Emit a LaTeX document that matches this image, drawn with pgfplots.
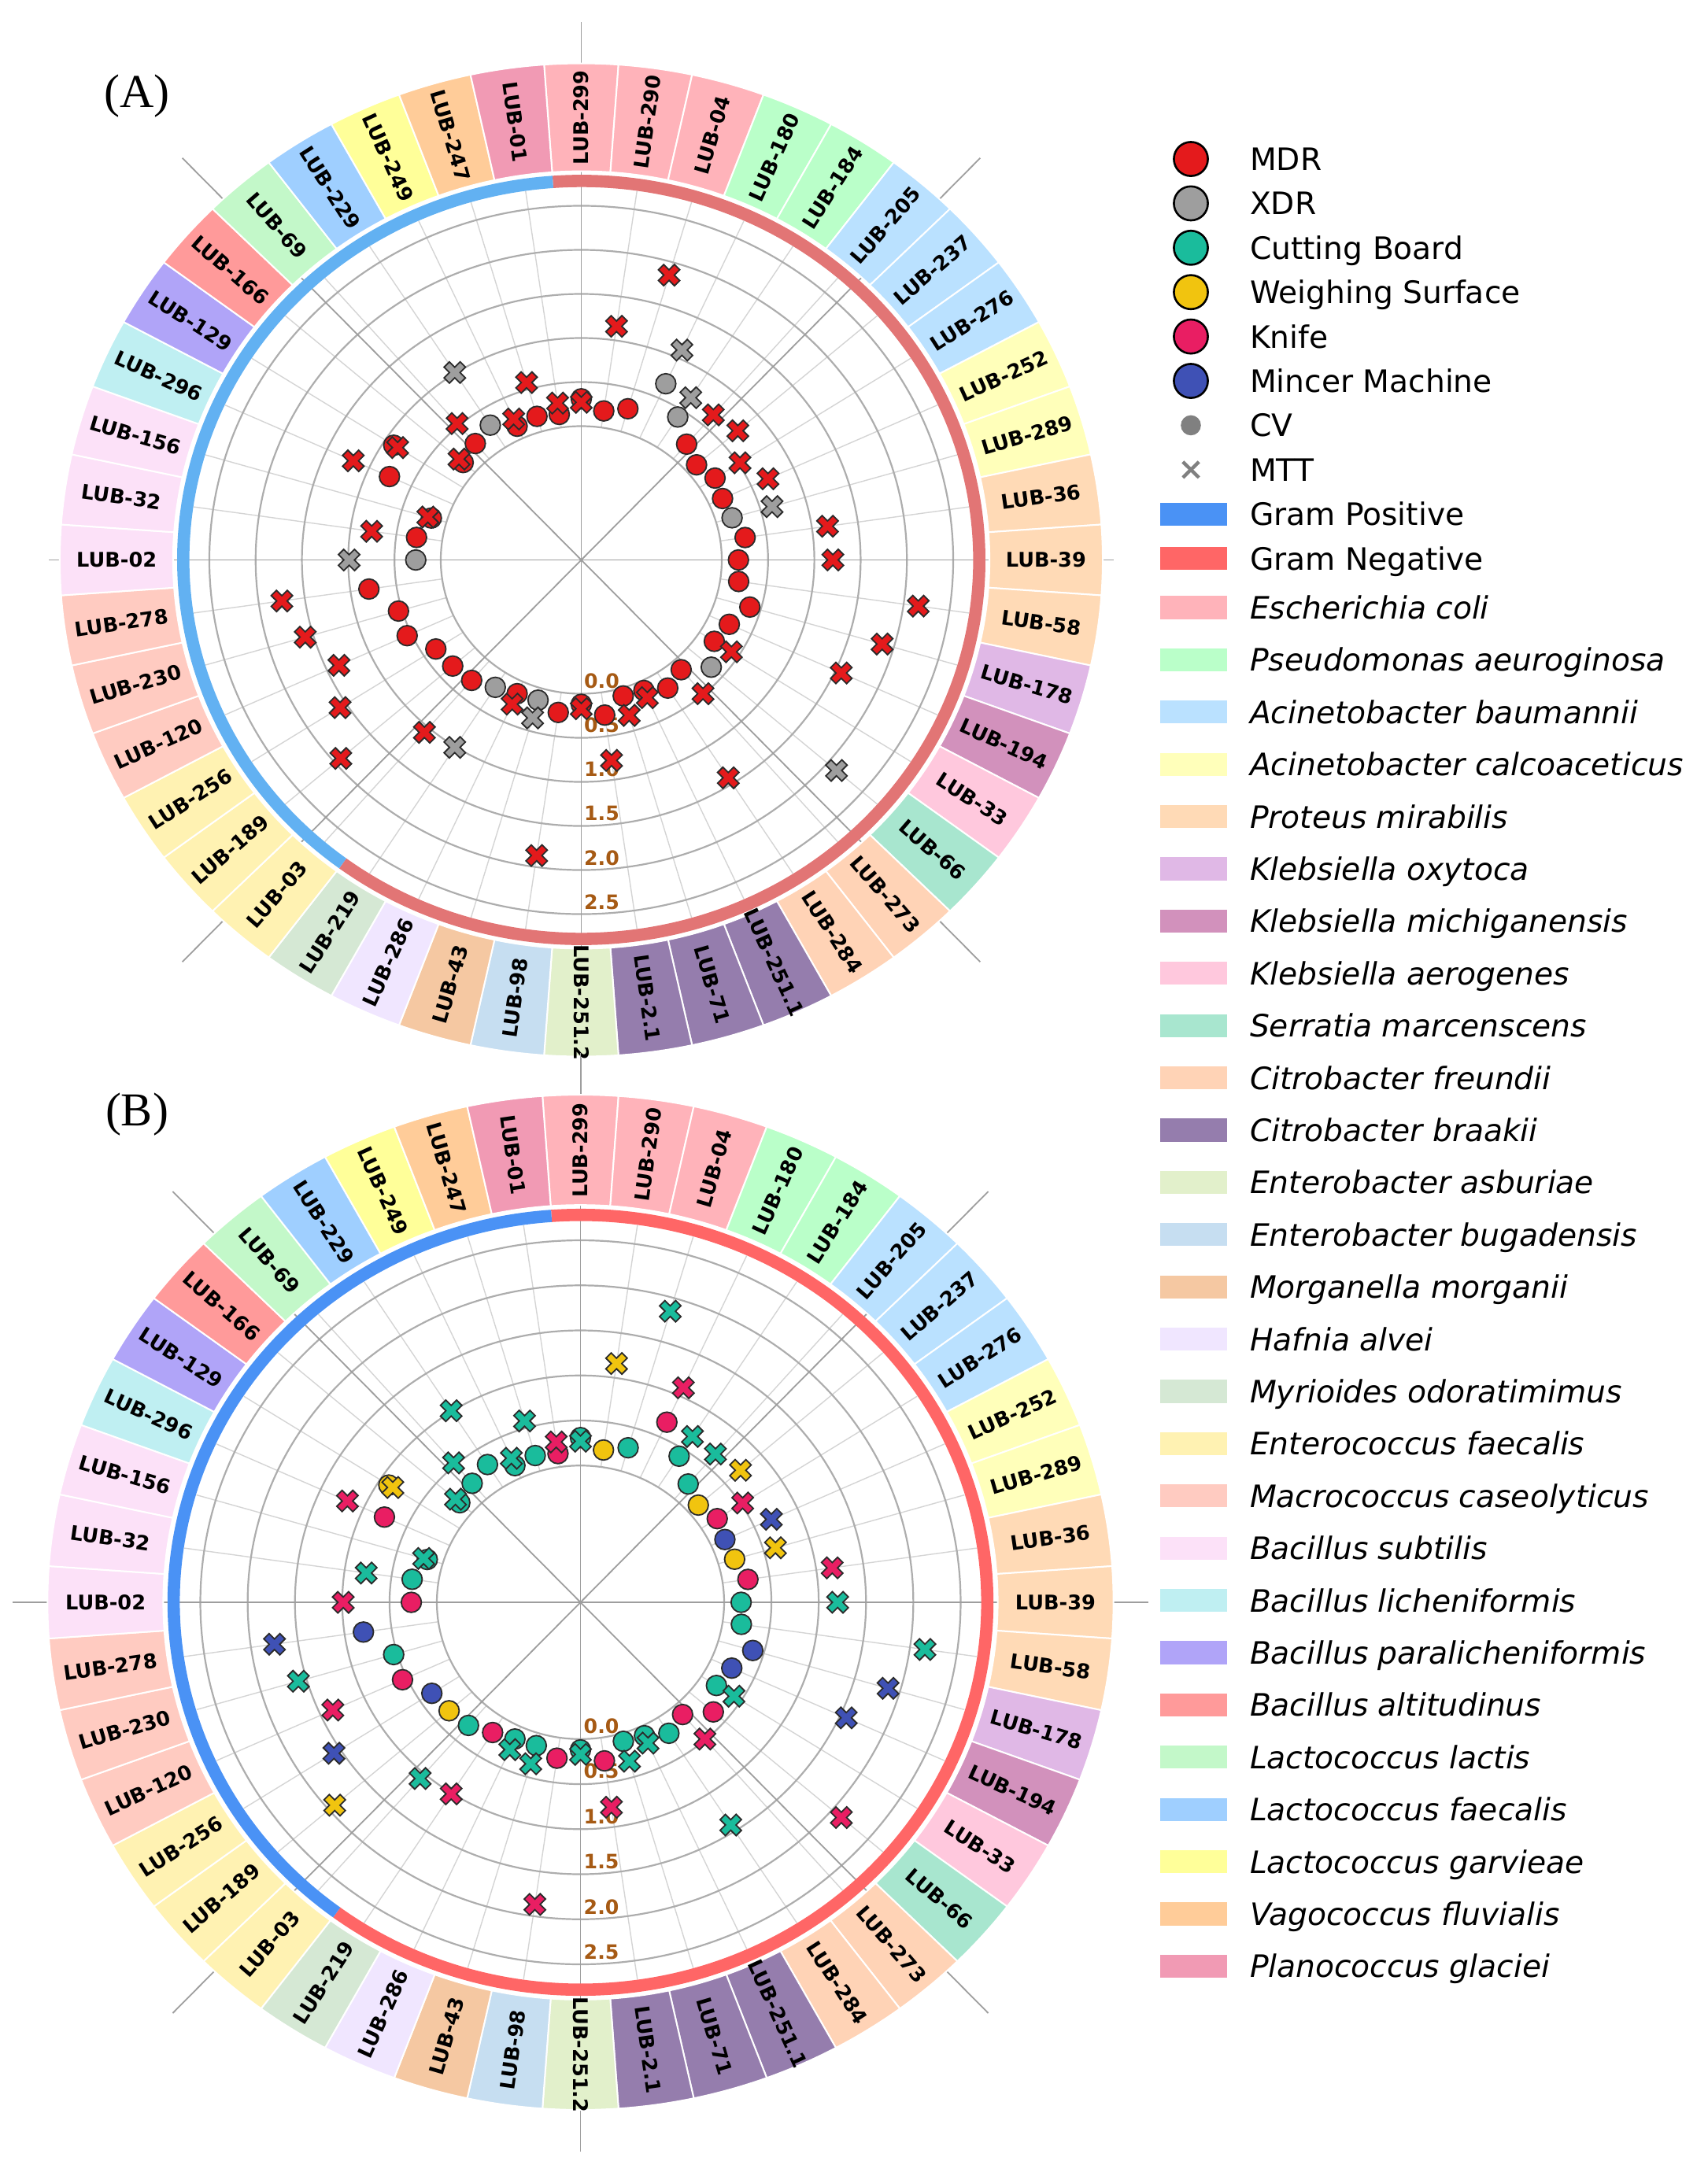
\documentclass[border=0pt]{standalone}
\usepackage{pgfplots}
\pgfplotsset{compat=1.18}
\usepackage{pgfplotstable}
\usepackage{fontspec}
\setmainfont{DejaVu Sans}
\newfontfamily\dvs{DejaVu Sans}
\newfontfamily\tnr{Liberation Serif}

% marker colours
\definecolor{mdr}{HTML}{E41A1C}
\definecolor{xdr}{HTML}{9E9E9E}
\definecolor{cb}{HTML}{1ABC9C}
\definecolor{ws}{HTML}{F1C40F}
\definecolor{kn}{HTML}{E91E63}
\definecolor{mm}{HTML}{3F51B5}
\definecolor{edgec}{HTML}{2B2B2B}
\definecolor{ticklab}{HTML}{A65A14}
% gram ring
\definecolor{gposA}{HTML}{62B1F2}
\definecolor{gnegA}{HTML}{E27575}
\definecolor{gposB}{HTML}{4A92F5}
\definecolor{gnegB}{HTML}{FF6666}
% species
\definecolor{ecoli}{HTML}{FFB3BA}
\definecolor{pseud}{HTML}{BAFFC9}
\definecolor{abaum}{HTML}{BAE1FF}
\definecolor{acalc}{HTML}{FFFFBA}
\definecolor{prot}{HTML}{FFDAB6}
\definecolor{koxy}{HTML}{E0B8E6}
\definecolor{kmich}{HTML}{D291BC}
\definecolor{kaer}{HTML}{FFC8DD}
\definecolor{serr}{HTML}{A8E6CF}
\definecolor{cfre}{HTML}{FFD3B6}
\definecolor{cbra}{HTML}{957DAD}
\definecolor{easb}{HTML}{E2F0CB}
\definecolor{ebug}{HTML}{C6DEF1}
\definecolor{morg}{HTML}{F5C8A2}
\definecolor{hafn}{HTML}{F0E6FF}
\definecolor{myro}{HTML}{D5E8D4}
\definecolor{entc}{HTML}{FFF2B2}
\definecolor{macr}{HTML}{FFCBC1}
\definecolor{bsub}{HTML}{FCE1F8}
\definecolor{blic}{HTML}{BFEFF2}
\definecolor{bpar}{HTML}{B0A4F8}
\definecolor{balt}{HTML}{FF9A9A}
\definecolor{llac}{HTML}{C3F8C9}
\definecolor{lfae}{HTML}{9FCFFF}
\definecolor{lgar}{HTML}{FFFF99}
\definecolor{vago}{HTML}{FFCC99}
\definecolor{plan}{HTML}{F19AB4}

% filled "X" marker
\pgfdeclareplotmark{Xf}{%
  \pgftransformrotate{45}%
  \pgfpathmoveto{\pgfqpoint{0.33\pgfplotmarksize}{\pgfplotmarksize}}%
  \pgfpathlineto{\pgfqpoint{0.33\pgfplotmarksize}{0.33\pgfplotmarksize}}%
  \pgfpathlineto{\pgfqpoint{\pgfplotmarksize}{0.33\pgfplotmarksize}}%
  \pgfpathlineto{\pgfqpoint{\pgfplotmarksize}{-0.33\pgfplotmarksize}}%
  \pgfpathlineto{\pgfqpoint{0.33\pgfplotmarksize}{-0.33\pgfplotmarksize}}%
  \pgfpathlineto{\pgfqpoint{0.33\pgfplotmarksize}{-\pgfplotmarksize}}%
  \pgfpathlineto{\pgfqpoint{-0.33\pgfplotmarksize}{-\pgfplotmarksize}}%
  \pgfpathlineto{\pgfqpoint{-0.33\pgfplotmarksize}{-0.33\pgfplotmarksize}}%
  \pgfpathlineto{\pgfqpoint{-\pgfplotmarksize}{-0.33\pgfplotmarksize}}%
  \pgfpathlineto{\pgfqpoint{-\pgfplotmarksize}{0.33\pgfplotmarksize}}%
  \pgfpathlineto{\pgfqpoint{-0.33\pgfplotmarksize}{0.33\pgfplotmarksize}}%
  \pgfpathlineto{\pgfqpoint{-0.33\pgfplotmarksize}{\pgfplotmarksize}}%
  \pgfpathclose
  \pgfusepathqfillstroke
}

% isolate index (clockwise from top), CV, MTT, resistance, source
\pgfplotstableread{
idx cv   mtt  res src
0   0.31 0.27 M CB
1   0.19 1.16 M WS
2   0.27 1.85 M CB
3   0.68 1.10 X K
4   0.41 0.67 X CB
5   0.22 0.66 M CB
6   0.13 0.72 M WS
7   0.20 0.52 M K
8   0.16 0.70 M MM
9   0.18 0.63 X WS
10  0.27 1.17 M K
11  0.18 1.20 M CB
12  0.20 2.16 M CB
13  0.38 1.87 M MM
14  0.24 1.57 M MM
15  0.19 0.41 M CB
16  0.34 2.13 X K
17  0.13 0.49 M K
18  0.21 1.42 M CB
19  0.11 0.20 M CB
20  0.09 0.32 M CB
21  0.26 0.78 M K
22  0.12 0.17 M CB
23  0.23 1.87 M K
24  0.14 0.35 X CB
25  0.15 0.28 M CB
26  0.20 1.01 X K
27  0.29 1.07 M CB
28  0.32 1.92 M WS
29  0.35 1.58 M MM
30  0.55 1.36 M K
31  0.54 1.59 M CB
32  0.80 1.75 M MM
33  0.27 0.99 X K
34  0.28 0.77 M CB
35  0.17 0.21 M CB
36  0.76 1.19 M K
37  0.89 0.84 M WS
38  0.17 0.23 M CB
39  0.23 0.53 M CB
40  0.30 1.01 X CB
41  0.15 0.24 M CB
42  0.18 0.58 M CB
43  0.15 0.28 M K
}\iso

\def\roff{1.518}
\def\ringlist{0/LUB-299/ecoli,1/LUB-290/ecoli,2/LUB-04/ecoli,3/LUB-180/pseud,4/LUB-184/pseud,5/LUB-205/abaum,6/LUB-237/abaum,7/LUB-276/abaum,8/LUB-252/acalc,9/LUB-289/acalc,10/LUB-36/prot,11/LUB-39/prot,12/LUB-58/prot,13/LUB-178/koxy,14/LUB-194/kmich,15/LUB-33/kaer,16/LUB-66/serr,17/LUB-273/cfre,18/LUB-284/cfre,19/LUB-251.1/cbra,20/LUB-71/cbra,21/LUB-2.1/cbra,22/LUB-251.2/easb,23/LUB-98/ebug,24/LUB-43/morg,25/LUB-286/hafn,26/LUB-219/myro,27/LUB-03/entc,28/LUB-189/entc,29/LUB-256/entc,30/LUB-120/macr,31/LUB-230/macr,32/LUB-278/macr,33/LUB-02/bsub,34/LUB-32/bsub,35/LUB-156/bsub,36/LUB-296/blic,37/LUB-129/bpar,38/LUB-166/balt,39/LUB-69/llac,40/LUB-229/lfae,41/LUB-249/lgar,42/LUB-247/vago,43/LUB-01/plan}

\tikzset{
  mingrid/.style={draw=black!17, line width=0.35pt},
  circgrid/.style={draw=black!32, line width=0.55pt},
  majgrid/.style={draw=black!38, line width=0.45pt},
}

% grid, gram ring, isolate ring and radial labels of one panel
\newcommand{\polardeco}[6]{%
\begin{scope}[shift={(#1)}, x=#2, y=#3]
  \foreach \i in {0,...,43}{
    \pgfmathsetmacro\tA{\i*360/44}
    \draw[mingrid] ({\roff*sin(\tA)},{\roff*cos(\tA)}) -- ({4.23*sin(\tA)},{4.23*cos(\tA)});
  }
  \foreach \v in {0,0.5,1,1.5,2,2.5}{
    \draw[circgrid] (0,0) circle[radius={\roff+\v}];
  }
  \draw[majgrid] (-#6,0) -- (#6,0);
  \draw[majgrid] (0,-6.1) -- (0,6.1);
  \draw[majgrid] (-4.31,-4.56) -- (4.31,4.56);
  \draw[majgrid] (-4.31,4.56) -- (4.31,-4.56);
  \draw[line width=3.9pt, #5] (94.09:4.3) arc[start angle=94.09, end angle=-126.82, radius=4.3];
  \draw[line width=3.9pt, #4] (-126.82:4.3) arc[start angle=-126.82, end angle=-265.91, radius=4.3];
  \foreach \i/\lab/\c in \ringlist{
    \pgfmathsetmacro\ta{90-\i*360/44+180/44}
    \pgfmathsetmacro\tb{90-\i*360/44-180/44}
    \pgfmathsetmacro\ph{90-\i*360/44}
    \pgfmathsetmacro\rot{\i<23 ? \ph : \ph+180}
    \fill[\c, draw=white, line width=0.5pt] (\ta:4.41) arc[start angle=\ta, end angle=\tb, radius=4.41]
      -- (\tb:5.634) arc[start angle=\tb, end angle=\ta, radius=5.634] -- cycle;
    \node[font=\dvs\bfseries\fontsize{6.4}{7}\selectfont, rotate=\rot, inner sep=0pt] at (\ph:5.02) {\lab};
  }
  \foreach \v/\l in {0/0.0,0.5/0.5,1/1.0,1.5/1.5,2/2.0,2.5/2.5}{
    \node[font=\dvs\bfseries\fontsize{6.3}{7}\selectfont, text=ticklab, inner sep=0pt] at (0.221,{-(1.371+1.005*\v)}) {\l};
  }
\end{scope}}

\pgfplotsset{
  polarbase/.style={hide axis, clip=false, anchor=origin,
    xmin=-6, xmax=6, ymin=-6, ymax=6},
  cvplot/.style={scatter, only marks, mark=*, mark size=3.2pt,
    scatter src=explicit symbolic},
  mttplot/.style={scatter, only marks, mark=Xf, mark size=3.6pt,
    scatter src=explicit symbolic},
  mk/.style={legend image code/.code={\draw[fill=#1, draw=black, line width=0.65pt] (9.75pt,0pt) circle[radius=5.4pt]; \path[draw=none, fill=none] (0pt,0pt) -- (21.25pt,0pt);}},
  patch/.style={legend image code/.code={\fill[#1, draw=none] (0pt,-3.65pt) rectangle (21.25pt,3.65pt);}},
}

\begin{document}
\begin{tikzpicture}
\useasboundingbox (0,0) rectangle (542.5pt,-691.25pt);

% ---------------- panel A ----------------
\polardeco{184.625pt,-177.875pt}{29.4pt}{28pt}{gposA}{gnegA}{5.75}
\begin{axis}[polarbase, at={(184.625pt,-177.875pt)}, x=29.4pt, y=28pt]
\addplot[cvplot, scatter/classes={
    M={draw=edgec, fill=mdr, line width=0.45pt},
    X={draw=edgec, fill=xdr, line width=0.45pt}}]
  table[x expr={(\thisrow{cv}+\roff)*sin(\thisrow{idx}*360/44)},
        y expr={(\thisrow{cv}+\roff)*cos(\thisrow{idx}*360/44)}, meta=res] {\iso};
\addplot[mttplot, scatter/classes={
    M={draw=edgec, fill=mdr, line width=0.45pt},
    X={draw=edgec, fill=xdr, line width=0.45pt}}]
  table[x expr={(\thisrow{mtt}+\roff)*sin(\thisrow{idx}*360/44)},
        y expr={(\thisrow{mtt}+\roff)*cos(\thisrow{idx}*360/44)}, meta=res] {\iso};
\end{axis}

% ---------------- panel B ----------------
\polardeco{184.375pt,-509pt}{30.05pt}{28.62pt}{gposB}{gnegB}{6.0}
\begin{axis}[polarbase, at={(184.375pt,-509pt)}, x=30.05pt, y=28.62pt]
\addplot[cvplot, scatter/classes={
    CB={draw=edgec, fill=cb, line width=0.45pt},
    WS={draw=edgec, fill=ws, line width=0.45pt},
    K={draw=edgec, fill=kn, line width=0.45pt},
    MM={draw=edgec, fill=mm, line width=0.45pt}}]
  table[x expr={(\thisrow{cv}+\roff)*sin(\thisrow{idx}*360/44)},
        y expr={(\thisrow{cv}+\roff)*cos(\thisrow{idx}*360/44)}, meta=src] {\iso};
\addplot[mttplot, scatter/classes={
    CB={draw=edgec, fill=cb, line width=0.45pt},
    WS={draw=edgec, fill=ws, line width=0.45pt},
    K={draw=edgec, fill=kn, line width=0.45pt},
    MM={draw=edgec, fill=mm, line width=0.45pt}}]
  table[x expr={(\thisrow{mtt}+\roff)*sin(\thisrow{idx}*360/44)},
        y expr={(\thisrow{mtt}+\roff)*cos(\thisrow{idx}*360/44)}, meta=src] {\iso};
\end{axis}

% ---------------- legends ----------------
\begin{axis}[at={(368.5pt,-44.5pt)}, anchor=north west, hide axis, scale only axis,
  width=1cm, height=1cm, xmin=0, xmax=1, ymin=0, ymax=1,
  legend cell align=left,
  legend style={at={(0,1)}, anchor=north west, draw=none, fill=none,
    inner sep=0pt, outer sep=0pt, row sep=2.1pt, column sep=7.25pt,
    font=\dvs\fontsize{9.8}{11}\selectfont,
    nodes={inner sep=0pt, text height=9.6pt, text depth=2.4pt}}]
\addlegendimage{mk=mdr}\addlegendentry{MDR}
\addlegendimage{mk=xdr}\addlegendentry{XDR}
\addlegendimage{mk=cb}\addlegendentry{Cutting Board}
\addlegendimage{mk=ws}\addlegendentry{Weighing Surface}
\addlegendimage{mk=kn}\addlegendentry{Knife}
\addlegendimage{mk=mm}\addlegendentry{Mincer Machine}
\addlegendimage{legend image code/.code={\fill[black!50, draw=none] (9.75pt,0pt) circle[radius=3.2pt]; \path[draw=none, fill=none] (0pt,0pt) -- (21.25pt,0pt);}}\addlegendentry{CV}
\addlegendimage{legend image code/.code={\draw[black!50, line width=1.1pt] (7.2pt,-2.5pt) -- (12.3pt,2.5pt) (7.2pt,2.5pt) -- (12.3pt,-2.5pt); \path[draw=none, fill=none] (0pt,0pt) -- (21.25pt,0pt);}}\addlegendentry{MTT}
\addlegendimage{patch=gposB}\addlegendentry{Gram Positive}
\addlegendimage{patch=gnegB}\addlegendentry{Gram Negative}
\end{axis}

\begin{axis}[at={(368.5pt,-187pt)}, anchor=north west, hide axis, scale only axis,
  width=1cm, height=1cm, xmin=0, xmax=1, ymin=0, ymax=1,
  legend cell align=left,
  legend style={at={(0,1)}, anchor=north west, draw=none, fill=none,
    inner sep=0pt, outer sep=0pt, row sep=4.6pt, column sep=7.25pt,
    font=\dvs\itshape\fontsize{9.8}{11}\selectfont,
    nodes={inner sep=0pt, text height=9.6pt, text depth=2.4pt}}]
\addlegendimage{patch=ecoli}\addlegendentry{Escherichia coli}
\addlegendimage{patch=pseud}\addlegendentry{Pseudomonas aeuroginosa}
\addlegendimage{patch=abaum}\addlegendentry{Acinetobacter baumannii}
\addlegendimage{patch=acalc}\addlegendentry{Acinetobacter calcoaceticus}
\addlegendimage{patch=prot}\addlegendentry{Proteus mirabilis}
\addlegendimage{patch=koxy}\addlegendentry{Klebsiella oxytoca}
\addlegendimage{patch=kmich}\addlegendentry{Klebsiella michiganensis}
\addlegendimage{patch=kaer}\addlegendentry{Klebsiella aerogenes}
\addlegendimage{patch=serr}\addlegendentry{Serratia marcenscens}
\addlegendimage{patch=cfre}\addlegendentry{Citrobacter freundii}
\addlegendimage{patch=cbra}\addlegendentry{Citrobacter braakii}
\addlegendimage{patch=easb}\addlegendentry{Enterobacter asburiae}
\addlegendimage{patch=ebug}\addlegendentry{Enterobacter bugadensis}
\addlegendimage{patch=morg}\addlegendentry{Morganella morganii}
\addlegendimage{patch=hafn}\addlegendentry{Hafnia alvei}
\addlegendimage{patch=myro}\addlegendentry{Myrioides odoratimimus}
\addlegendimage{patch=entc}\addlegendentry{Enterococcus faecalis}
\addlegendimage{patch=macr}\addlegendentry{Macrococcus caseolyticus}
\addlegendimage{patch=bsub}\addlegendentry{Bacillus subtilis}
\addlegendimage{patch=blic}\addlegendentry{Bacillus licheniformis}
\addlegendimage{patch=bpar}\addlegendentry{Bacillus paralicheniformis}
\addlegendimage{patch=balt}\addlegendentry{Bacillus altitudinus}
\addlegendimage{patch=llac}\addlegendentry{Lactococcus lactis}
\addlegendimage{patch=lfae}\addlegendentry{Lactococcus faecalis}
\addlegendimage{patch=lgar}\addlegendentry{Lactococcus garvieae}
\addlegendimage{patch=vago}\addlegendentry{Vagococcus fluvialis}
\addlegendimage{patch=plan}\addlegendentry{Planococcus glaciei}
\end{axis}

\node[font=\tnr\fontsize{15}{18}\selectfont, inner sep=0pt] at (43.5pt,-30.4pt) {(A)};
\node[font=\tnr\fontsize{15}{18}\selectfont, inner sep=0pt] at (43.5pt,-353.9pt) {(B)};
\end{tikzpicture}
\end{document}
